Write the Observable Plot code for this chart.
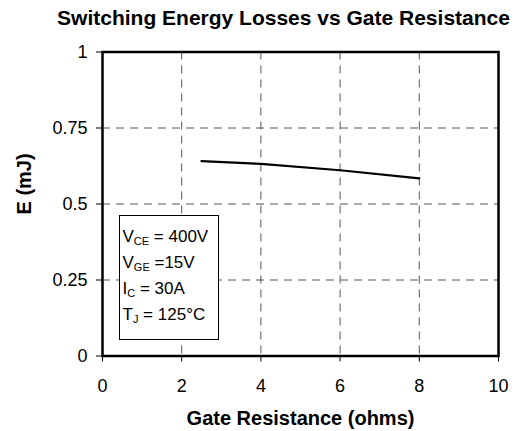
<!DOCTYPE html>
<html><head><meta charset="utf-8">
<script src="https://cdn.jsdelivr.net/npm/d3@7"></script>
<script src="https://cdn.jsdelivr.net/npm/@observablehq/plot@0.6"></script>
<style>
body{margin:0;background:#fff;font-family:"Liberation Sans",Arial,sans-serif;}
#wrap{position:relative;width:514px;height:431px;}
#legend{position:absolute;left:119px;top:215px;width:95px;height:115px;border:1.5px solid #000;background:#fff;
  font-size:17px;line-height:26px;padding:7.6px 0 0 2.5px;color:#000;white-space:nowrap;}
#legend sub{font-size:11px;vertical-align:-3px;line-height:0;}
</style></head>
<body>
<div id="wrap"></div>
<script>
const title = "Switching Energy Losses vs Gate Resistance";
const xLabel = "Gate Resistance (ohms)";
const yLabel = "E (mJ)";
const rg = [2.5, 4, 6, 8];
const energy = [0.641, 0.632, 0.611, 0.584];
const xTicks = [0, 2, 4, 6, 8, 10];
const yTicks = [0, 0.25, 0.5, 0.75, 1];
const yTickLabels = ["0", "0.25", "0.5", "0.75", "1"];
const xGrid = [2, 4, 6, 8];
const yGrid = [0.25, 0.5, 0.75];
const legendLines = [["V", "CE", " = 400V"], ["V", "GE", " =15V"], ["I", "C", " = 30A"], ["T", "J", " = 125°C"]];

const data = rg.map((x, i) => ({x, y: energy[i]}));
const grid = {stroke: "#555", strokeWidth: 1, strokeDasharray: "8,6"};

const chart = Plot.plot({
  width: 514, height: 431,
  marginLeft: 102, marginRight: 16, marginTop: 51.5, marginBottom: 75.5,
  style: {fontFamily: "Liberation Sans, Arial, sans-serif", background: "#fff", color: "#000"},
  x: {domain: [0, 10]},
  y: {domain: [0, 1]},
  marks: [
    Plot.ruleX(xGrid, grid),
    Plot.ruleY(yGrid, grid),
    Plot.axisX({ticks: xTicks, tickSize: 6, tickPadding: 17, fontSize: 18, label: null}),
    Plot.axisY({ticks: yTicks, tickSize: 6, tickPadding: 9, fontSize: 18, label: null,
      tickFormat: d => yTickLabels[yTicks.indexOf(d)]}),
    Plot.frame({stroke: "#000", strokeWidth: 2.5}),
    Plot.line(data, {x: "x", y: "y", stroke: "#000", strokeWidth: 2.2}),
    Plot.text([title], {frameAnchor: "top", dy: -27.5, dx: -17, lineAnchor: "bottom", fontSize: 21, fontWeight: "bold"}),
    Plot.text([xLabel], {frameAnchor: "bottom", dy: 68.5, lineAnchor: "bottom", fontSize: 20, fontWeight: "bold"}),
    Plot.text([yLabel], {frameAnchor: "left", dx: -78, dy: 10.5, rotate: -90, fontSize: 20, fontWeight: "bold"})
  ]
});
const wrap = document.getElementById("wrap");
wrap.appendChild(chart);
const leg = document.createElement("div");
leg.id = "legend";
leg.innerHTML = legendLines.map(([a, s, b]) => `${a}<sub>${s}</sub>${b}`).join("<br>");
wrap.appendChild(leg);
</script>
</body></html>
